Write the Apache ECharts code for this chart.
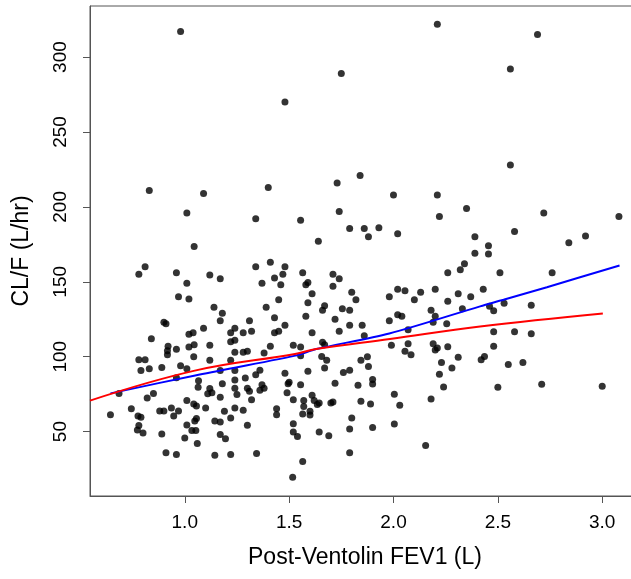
<!DOCTYPE html>
<html>
<head>
<meta charset="utf-8">
<script src="https://cdn.jsdelivr.net/npm/echarts@6/dist/echarts.min.js"></script>
<style>
html,body{margin:0;padding:0;overflow:hidden;background:#fff;width:631px;height:579px;}
#chart{width:650px;height:579px;}
</style>
</head>
<body>
<div id="chart"></div>
<script>
// Observations: [Post-Ventolin FEV1 (L), CL/F (L/hr)]
const observations = [
[0.98,317],[2.21,322],[2.69,315],[1.75,289],[2.56,292],[1.48,270],[0.83,211],[1.09,209],[1.40,213],[1.73,216],[1.84,221],[2.00,208],[2.21,208],[2.56,228],
[1.01,196],[1.045,173.5],[0.81,160],[0.78,155],[0.96,156],[1.01,149],[0.97,140],[1.02,138.5],[0.90,123],[0.91,122],[0.84,112],[1.02,115],[1.04,116],[0.92,107],[0.96,105],[1.02,106.4],[1.045,108],
[1.34,192],[1.41,163],[1.48,160],[1.34,160],[1.12,154.5],[1.17,152],[1.43,152.5],[1.47,155],[1.37,149],[1.46,148],[1.45,138],[1.14,133],[1.18,129],[1.39,133],[1.17,124],[1.31,124],[1.43,126],[1.09,119],[1.24,119],[1.22,116],[1.28,116],[1.32,117],[1.48,121],[1.43,116],[1.45,117],[1.22,110],[1.24,111],[1.12,107.6],[1.41,106.9],[1.52,107.6],
[1.74,197],[1.555,191],[1.79,185.5],[1.86,185.5],[1.93,186],[1.88,180],[1.64,177],[1.565,156],[1.71,155],[1.74,152],[1.58,148],[1.59,149.5],[1.71,147],[1.61,142],[1.80,143],[1.82,138],[1.98,140],[1.59,136],[1.67,134],[1.66,131],[1.755,132],[1.79,131],[1.58,127],[1.72,125],[1.98,124],[1.79,121],[1.85,121],[1.74,117],[1.61,116],[1.86,114],[1.555,106.5],[1.66,109.6],[1.67,108],[1.99,107.6],
[2.35,199],[2.22,193.5],[2.02,182],[2.39,180],[2.39,169],[2.34,162],[2.32,158],[2.26,156],[2.02,145],[2.055,144],[2.13,143],[2.20,145],[2.10,138],[2.26,137],[2.31,142],[2.37,140],[2.43,145],[2.33,132],[2.18,131],[2.02,128],[2.04,127],[2.20,127],[2.19,123],[2.255,122],[2.07,118],[2.07,108.7],[2.19,108.7],[2.21,105.8],[2.26,106.7],
[2.72,196],[3.08,193.5],[2.58,183.5],[2.455,174],[2.455,168.5],[2.84,176],[2.92,180.5],[2.51,156],[2.76,156],[2.46,133.6],[2.48,130.7],[2.53,135.6],[2.66,134.4],[2.48,116.7],[2.58,116.7],[2.66,115.3],[2.48,107],
[0.917,104],[0.917,101.3],[1.043,100],[0.78,98],[0.81,98],[0.79,90.7],[0.83,92],[0.89,92.7],[0.98,94],[1.01,92],[0.96,86],[1.066,84],[1.064,79.6],[0.685,75.5],[0.85,75.5],[0.82,72.4],[1.01,70.7],[1.043,68.4],[1.056,67],[0.644,61.3],[0.744,65.3],[0.776,60.4],[0.79,59.6],[0.88,63.8],[0.90,63.8],[0.936,65.8],[0.947,60.4],[0.97,63.8],[1.048,57],[1.056,58.7],[1.01,54.4],[0.78,54],[0.773,51],[0.80,49],[0.89,48.4],[1.034,50.7],[1.053,50.7],[1.0,45.8],[1.06,42],[0.91,35.8],[0.96,34.7],
[1.24,103],[1.28,103],[1.30,103.6],[1.38,102.4],[1.12,97.6],[1.22,97.6],[1.17,90.7],[1.24,90.7],[1.36,91],[1.34,88],[1.48,89],[1.29,85.8],[1.24,84.4],[1.18,82],[1.12,78.7],[1.11,75.3],[1.13,76],[1.24,79],[1.30,79],[1.31,77],[1.37,81.3],[1.38,79],[1.36,77.6],[1.495,82],[1.49,76],[1.25,74.7],[1.17,73],[1.32,71.3],[1.52,71.3],[1.10,65.8],[1.24,65.8],[1.28,64.2],[1.44,65.3],[1.44,61.3],[1.19,63.6],[1.22,59],[1.144,57],[1.17,56.4],[1.52,55.3],[1.30,54.2],[1.52,49.8],[1.17,48],[1.195,45.3],[1.144,34.2],[1.22,34.7],[1.344,35.3],[1.517,19.5],
[1.555,100.7],[1.656,100.2],[1.68,97.6],[1.844,97.6],[1.875,100],[1.88,93.5],[1.67,92.4],[1.59,90.2],[1.76,89.5],[1.79,91],[1.50,83],[1.555,81.3],[1.72,82.2],[1.83,81],[1.90,84.7],[1.90,81.8],[1.57,70.7],[1.61,74.2],[1.62,70.7],[1.635,68],[1.644,69],[1.57,66.7],[1.70,69],[1.71,69.8],[1.844,70.2],[1.89,68.4],[1.565,61.8],[1.60,63.6],[1.60,61],[1.80,59],[1.79,51.8],[1.90,52.7],[1.54,46.7],[1.644,49.8],[1.69,47.3],[1.79,35.8],[1.565,30],
[2.055,103.6],[2.084,101.3],[2.20,104.4],[2.31,99.6],[2.42,98],[2.436,100.2],[2.23,96.2],[2.28,92.4],[2.22,88.2],[2.24,79.8],[2.004,75],[2.18,71.8],[2.03,67.6],[2.004,55],[2.154,40.7],
[2.55,94.7],[2.62,96.2],[2.50,79.6],[2.71,81.6],[3.0,80.2]
];

// Smooth (blue) curve
const smoothX = [0.644, 1.05, 1.53, 1.63, 1.98, 2.415, 2.527, 2.735, 3.083];
const smoothY = [75.5, 87.5, 100.7, 105.1, 115.5, 133.6, 138.0, 146.4, 160.9];

// Model (red) curve
const modelX = [0.546, 1.048, 1.528, 1.63, 1.983, 2.415, 3.003];
const modelY = [70.7, 90.7, 101.8, 105.1, 111.8, 120.2, 128.9];

const xTicks = [1.0, 1.5, 2.0, 2.5, 3.0];
const yTicks = [50, 100, 150, 200, 250, 300];

const zip = (a, b) => a.map((v, i) => [v, b[i]]);

const chart = echarts.init(document.getElementById('chart'), null, {renderer: 'canvas'});
const txt = '#000';
const frame = '#555';
const font = 'Liberation Sans, Arial, sans-serif';
chart.setOption({
  animation: false,
  backgroundColor: '#fff',
  grid: {left: 90, top: 6, right: 10, bottom: 83, show: true, borderColor: frame, borderWidth: 1, backgroundColor: 'transparent'},
  xAxis: {
    type: 'value', min: 0.546, max: 3.181,
    name: 'Post-Ventolin FEV1 (L)', nameLocation: 'middle', nameGap: 50,
    nameTextStyle: {fontFamily: font, fontSize: 23, color: txt},
    axisLine: {show: true, onZero: false, lineStyle: {color: frame, width: 1}},
    axisTick: {show: true, inside: false, length: 7, customValues: xTicks, lineStyle: {color: frame}},
    axisLabel: {customValues: xTicks, margin: 17, fontFamily: font, fontSize: 19, color: txt,
      formatter: v => v.toFixed(1)},
    splitLine: {show: false}
  },
  yAxis: {
    type: 'value', min: 7, max: 334.1,
    name: 'CL/F (L/hr)', nameLocation: 'middle', nameGap: 57, nameRotate: 90,
    nameTextStyle: {fontFamily: font, fontSize: 23, color: txt},
    axisLine: {show: true, onZero: false, lineStyle: {color: frame, width: 1}},
    axisTick: {show: true, inside: false, length: 7, customValues: yTicks, lineStyle: {color: frame}},
    axisLabel: {customValues: yTicks, rotate: 90, margin: 20, fontFamily: font, fontSize: 19, color: txt},
    splitLine: {show: false}
  },
  series: [
    {type: 'scatter', data: observations, symbol: 'circle', symbolSize: 7, itemStyle: {color: '#000'}, silent: true},
    {type: 'line', data: zip(smoothX, smoothY), showSymbol: false, smooth: 0.3, lineStyle: {color: '#0000ff', width: 2}, silent: true},
    {type: 'line', data: zip(modelX, modelY), showSymbol: false, smooth: 0.4, lineStyle: {color: '#ff0000', width: 2}, silent: true}
  ]
});
</script>
</body>
</html>
